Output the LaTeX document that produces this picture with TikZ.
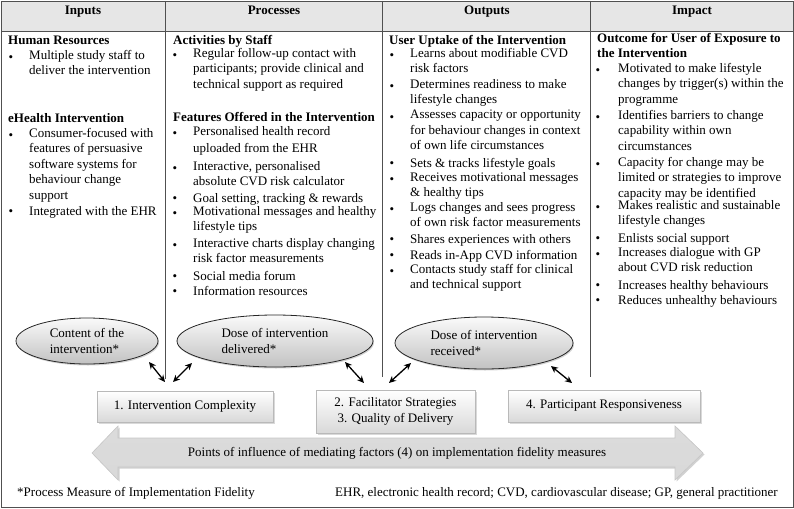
\documentclass[tikz,border=0pt]{standalone}
\usepackage{fontspec}
\setmainfont{Liberation Serif}
\usetikzlibrary{shapes.geometric,shadows,arrows.meta}
\newcommand\fs{\fontsize{13}{15.5}\selectfont}
\definecolor{hdrgray}{HTML}{E6E6E6}
\definecolor{linegray}{HTML}{505050}
\tikzset{
  txt/.style={anchor=north west, inner sep=0pt, align=left, font=\fs, execute at begin node=\strut},
  hd/.style={txt, font=\fs\bfseries},
  bul/.style={anchor=north, inner sep=0pt, font=\fs, execute at begin node=\strut},
  colhead/.style={anchor=base, inner sep=0pt, font=\fs\bfseries},
  oval/.style={ellipse, draw=black!85, line width=0.8pt, top color=gray!4, bottom color=gray!48,
    drop shadow={shadow xshift=1pt, shadow yshift=-1.5pt, opacity=0.35}, inner sep=0pt, align=left, font=\fs},
  factor/.style={rectangle, draw=gray!55, line width=0.6pt, top color=white, bottom color=gray!30,
    drop shadow={shadow xshift=1.5pt, shadow yshift=-1.5pt, opacity=0.3}, inner sep=0pt, align=center, font=\fs},
  link/.style={{Stealth[length=7pt,width=6.5pt]}-{Stealth[length=7pt,width=6.5pt]}, line width=1.3pt, black},
  frame/.style={draw=linegray, line width=0.9pt},
}
\begin{document}
\begin{tikzpicture}[x=1pt,y=-1pt]
\useasboundingbox (0,0) rectangle (794,508);
% header row
\fill[hdrgray] (1,1) rectangle (793,31);
\draw[frame] (1,31) -- (793,31);
\draw[frame] (165,1) -- (165,379);
\draw[frame] (382,1) -- (382,377);
\draw[frame] (590,1) -- (590,377);
\draw[frame] (1,1) rectangle (793,507);

\node[colhead] (hIn)  at (83,14.5)  {Inputs};
\node[colhead] (hPr)  at (274,14.5) {Processes};
\node[colhead] (hOut) at (487,14.5) {Outputs};
\node[colhead] (hImp) at (692,14.5) {Impact};

% ---- Inputs
\node[hd] (in1) at (8,33) {Human Resources};
\node[bul] (bin1) at (11,50) {\textbullet};
\node[txt] (in2) at (29,50) {Multiple study staff to\\deliver the intervention};
\node[hd] (in3) at (8,111) {eHealth Intervention};
\node[bul] (bin4) at (11,128) {\textbullet};
\node[txt] (in4) at (29,128) {Consumer-focused with\\features of persuasive\\software systems for\\behaviour change\\support};
\node[bul] (bin5) at (11,204) {\textbullet};
\node[txt] (in5) at (29,204) {Integrated with the EHR};

% ---- Processes
\node[hd] (pr1) at (173,33) {Activities by Staff};
\node[bul] (bpr2) at (175,48) {\textbullet};
\node[txt] (pr2) at (193,48) {Regular follow-up contact with\\participants; provide clinical and\\technical support as required};
\node[hd] (pr3) at (173,110) {Features Offered in the Intervention};
\node[bul] (bpr4) at (175,126) {\textbullet};
\node[txt] (pr4) at (193,126) {Personalised health record\\[1.5pt]uploaded from the EHR};
\node[bul] (bpr5) at (175,161) {\textbullet};
\node[txt] (pr5) at (193,161) {Interactive, personalised\\absolute CVD risk calculator};
\node[bul] (bpr6) at (175,191) {\textbullet};
\node[txt] (pr6) at (193,191) {Goal setting, tracking \& rewards};
\node[bul] (bpr7) at (175,206) {\textbullet};
\node[txt] (pr7) at (193,206) {Motivational messages and healthy\\lifestyle tips};
\node[bul] (bpr8) at (175,238) {\textbullet};
\node[txt] (pr8) at (193,238) {Interactive charts display changing\\risk factor measurements};
\node[bul] (bpr9) at (175,269) {\textbullet};
\node[txt] (pr9) at (193,269) {Social media forum};
\node[bul] (bpr10) at (175,284) {\textbullet};
\node[txt] (pr10) at (193,284) {Information resources};

% ---- Outputs
\node[hd] (ou1) at (389,33) {User Uptake of the Intervention};
\node[bul] (bou2) at (392,48) {\textbullet};
\node[txt] (ou2) at (410,48) {Learns about modifiable CVD\\risk factors};
\node[bul] (bou3) at (392,79) {\textbullet};
\node[txt] (ou3) at (410,79) {Determines readiness to make\\lifestyle changes};
\node[bul] (bou4) at (392,110) {\textbullet};
\node[txt] (ou4) at (410,110) {Assesses capacity or opportunity\\for behaviour changes in context\\of own life circumstances};
\node[bul] (bou5) at (392,156) {\textbullet};
\node[txt] (ou5) at (410,156) {Sets \& tracks lifestyle goals};
\node[bul] (bou6) at (392,172) {\textbullet};
\node[txt] (ou6) at (410,172) {Receives motivational messages\\\& healthy tips};
\node[bul] (bou7) at (392,202) {\textbullet};
\node[txt] (ou7) at (410,202) {Logs changes and sees progress\\of own risk factor measurements};
\node[bul] (bou8) at (392,232) {\textbullet};
\node[txt] (ou8) at (410,232) {Shares experiences with others};
\node[bul] (bou9) at (392,248) {\textbullet};
\node[txt] (ou9) at (410,248) {Reads in-App CVD information};
\node[bul] (bou10) at (392,264) {\textbullet};
\node[txt] (ou10) at (410,264) {Contacts study staff for clinical\\and technical support};

% ---- Impact
\node[hd] (im1) at (597,33) {Outcome for User of Exposure to\\the Intervention};
\node[bul] (bim2) at (598,63) {\textbullet};
\node[txt] (im2) at (618,63) {Motivated to make lifestyle\\changes by trigger(s) within the\\programme};
\node[bul] (bim3) at (598,110) {\textbullet};
\node[txt] (im3) at (618,110) {Identifies barriers to change\\capability within own\\circumstances};
\node[bul] (bim4) at (598,157) {\textbullet};
\node[txt] (im4) at (618,157) {Capacity for change may be\\limited or strategies to improve\\capacity may be identified};
\node[bul] (bim5) at (598,200) {\textbullet};
\node[txt] (im5) at (618,200) {Makes realistic and sustainable\\lifestyle changes};
\node[bul] (bim6) at (598,231) {\textbullet};
\node[txt] (im6) at (618,231) {Enlists social support};
\node[bul] (bim7) at (598,247) {\textbullet};
\node[txt] (im7) at (618,247) {Increases dialogue with GP\\about CVD risk reduction};
\node[bul] (bim8) at (598,278) {\textbullet};
\node[txt] (im8) at (618,278) {Increases healthy behaviours};
\node[bul] (bim9) at (598,293) {\textbullet};
\node[txt] (im9) at (618,293) {Reduces unhealthy behaviours};

% ---- ellipses
\node[oval, minimum width=142pt, minimum height=46pt] (e1) at (87,341) {Content of the\\intervention*};
\node[oval, minimum width=196pt, minimum height=52pt] (e2) at (275,341) {Dose of intervention\\delivered*};
\node[oval, minimum width=178pt, minimum height=52pt] (e3) at (484,343) {Dose of intervention\\received*};

% ---- factor boxes
\node[factor, minimum width=176pt, minimum height=31pt] (f1) at (185,406.5) {1. Intervention Complexity};
\node[factor, minimum width=159pt, minimum height=43pt] (f2) at (395.5,411.5) {2. Facilitator Strategies\\3. Quality of Delivery};
\node[factor, minimum width=192pt, minimum height=32pt] (f4) at (604,406) {4. Participant Responsiveness};

% ---- small links
\coordinate (l1a) at (149,362); \coordinate (l1b) at (165,382);
\coordinate (l2a) at (192,363); \coordinate (l2b) at (173,382);
\coordinate (l3a) at (345,362); \coordinate (l3b) at (364,383);
\coordinate (l4a) at (411,363); \coordinate (l4b) at (389,383);
\coordinate (l5a) at (551,366); \coordinate (l5b) at (572,383);
\draw[link] (l1a) -- (l1b);
\draw[link] (l2a) -- (l2b);
\draw[link] (l3a) -- (l3b);
\draw[link] (l4a) -- (l4b);
\draw[link] (l5a) -- (l5b);

% ---- big double arrow
\path[fill=black, opacity=0.18, xshift=1.5pt, yshift=-1.5pt]
  (92,453) -- (118,426) -- (118,438) -- (675,438) -- (675,426) -- (703,453)
  -- (675,480) -- (675,467) -- (118,467) -- (118,480) -- cycle;
\shade[top color=gray!28, middle color=gray!6, bottom color=gray!30]
  (92,453) -- (118,426) -- (118,438) -- (675,438) -- (675,426) -- (703,453)
  -- (675,480) -- (675,467) -- (118,467) -- (118,480) -- cycle;
\draw[gray!45, line width=0.6pt]
  (92,453) -- (118,426) -- (118,438) -- (675,438) -- (675,426) -- (703,453)
  -- (675,480) -- (675,467) -- (118,467) -- (118,480) -- cycle;
\node[inner sep=0pt, font=\fs] (arrtxt) at (397,453) {Points of influence of mediating factors (4) on implementation fidelity measures};

% ---- footnotes
\node[anchor=base west, inner sep=0pt, font=\fs] (fn1) at (17,496) {*Process Measure of Implementation Fidelity};
\node[anchor=base west, inner sep=0pt, font=\fs] (fn2) at (335,496) {EHR, electronic health record; CVD, cardiovascular disease; GP, general practitioner};
\end{tikzpicture}
\end{document}
